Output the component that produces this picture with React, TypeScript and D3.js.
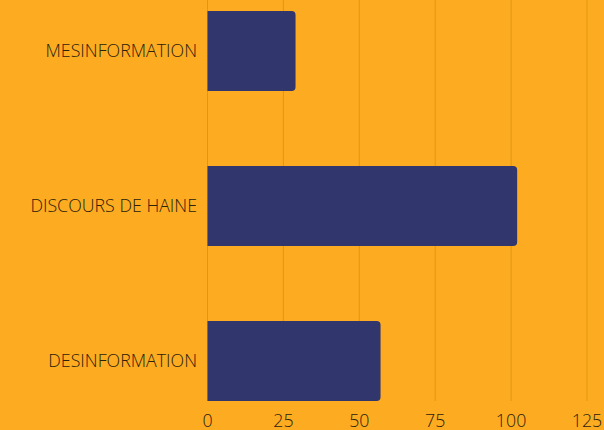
import React from 'react';
import * as d3 from 'd3';

const categories = ['MESINFORMATION', 'DISCOURS DE HAINE', 'DESINFORMATION'];
const values = [29, 102, 57];
const ticks = [0, 25, 50, 75, 100, 125];

const W = 604;
const H = 430;

export default function App() {
  const x = d3.scaleLinear().domain([0, 125]).range([207.5, 587]);
  const y = d3
    .scaleBand()
    .domain(categories)
    .range([-26.5, 438.5])
    .paddingInner(0.484)
    .paddingOuter(0.242);
  const gridBottom = 401;
  const r = 4;

  // bar with rounded right corners only
  const barPath = (v: number, cat: string) => {
    const x0 = x(0);
    const x1 = x(v);
    const y0 = y(cat)!;
    const y1 = y0 + y.bandwidth();
    return `M${x0},${y0}H${x1 - r}Q${x1},${y0} ${x1},${y0 + r}V${y1 - r}Q${x1},${y1} ${x1 - r},${y1}H${x0}Z`;
  };

  return (
    <svg
      width={W}
      height={H}
      style={{ position: 'absolute', left: 0, top: 0, background: '#FDAC22' }}
      fontFamily="'Open Sans', sans-serif"
    >
      <rect width={W} height={H} fill="#FDAC22" />
      {ticks.map((t) => (
        <line
          key={t}
          x1={x(t)}
          x2={x(t)}
          y1={0}
          y2={gridBottom}
          stroke="#E0980F"
          strokeWidth={1}
        />
      ))}
      {categories.map((c, i) => (
        <path key={c} d={barPath(values[i], c)} fill="#31366D" />
      ))}
      {categories.map((c) => (
        <text
          key={c}
          x={197}
          y={y(c)! + y.bandwidth() / 2}
          dy="0.35em"
          textAnchor="end"
          fontSize={17.8}
          fontWeight={300}
          fill="#2B210D"
        >
          {c}
        </text>
      ))}
      {ticks.map((t) => (
        <text
          key={t}
          x={x(t)}
          y={421}
          dy="0.35em"
          textAnchor="middle"
          fontSize={17.8}
          fontWeight={300}
          fill="#2B210D"
        >
          {t}
        </text>
      ))}
    </svg>
  );
}
